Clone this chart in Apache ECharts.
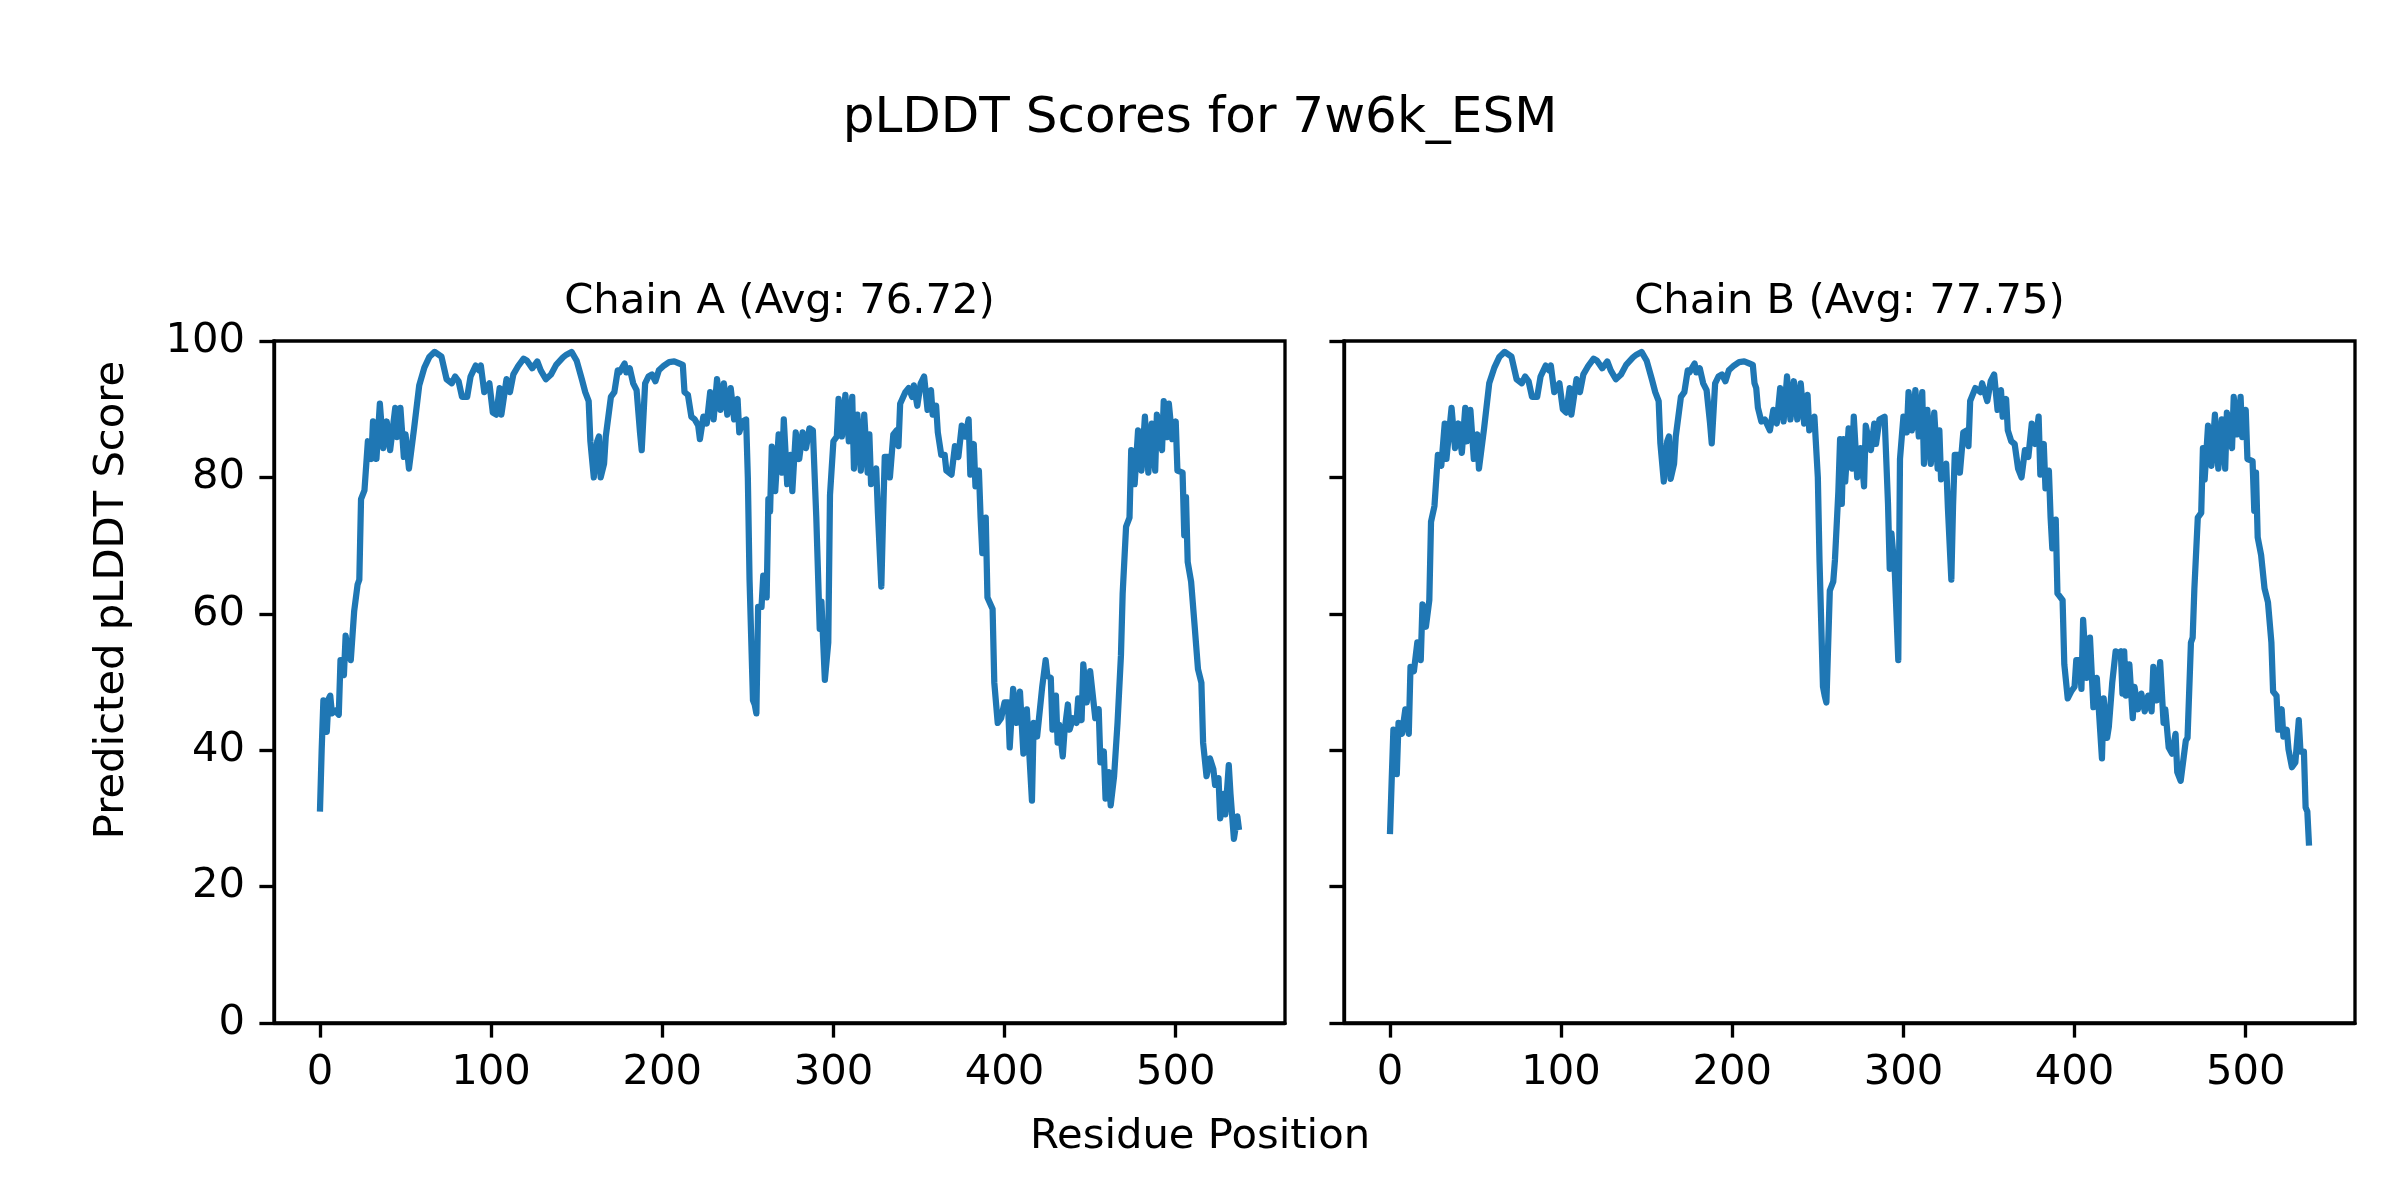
<!DOCTYPE html>
<html>
<head>
<meta charset="utf-8">
<script src="https://cdn.jsdelivr.net/npm/echarts@6/dist/echarts.min.js"></script>
<style>
html,body{margin:0;padding:0;background:#fff;}
#chart{width:2400px;height:1200px;}
</style>
</head>
<body>
<div id="chart"></div>
<script>
// ---- Data ----
const chainATitle = 'Chain A (Avg: 76.72)';
const chainBTitle = 'Chain B (Avg: 77.75)';
const xTicks = [0, 100, 200, 300, 400, 500];
const yTicks = [0, 20, 40, 60, 80, 100];

const resA = [0,1,2,3,4,5,6,7,9,11,12,14,15,16,18,20,22,23,24,26,27,28,30,31,33,35,37,39,41,44,45,47,49,50,52,55,58,61,64,67,71,74,77,79,81,83,86,88,91,93,94,96,99,101,103,105,106,109,111,113,116,119,121,124,127,129,132,135,138,142,144,147,150,153,155,157,158,160,162,163,164,166,167,170,172,174,175,178,179,181,183,185,187,188,190,192,194,196,198,201,204,207,210,212,213,215,217,219,221,222,224,226,228,230,232,234,236,238,240,242,244,245,247,249,250,251,253,254,255,256,258,259,261,262,263,264,266,268,270,271,273,275,276,278,280,282,284,286,288,290,292,293,295,297,298,300,302,303,305,307,309,311,312,314,316,318,320,321,322,325,326,328,329,330,332,333,335,337,338,339,342,344,346,347,349,351,353,355,357,358,360,361,363,365,366,369,371,373,375,377,379,380,382,383,385,386,387,389,390,393,394,396,398,400,402,403,405,407,409,411,413,416,417,419,420,422,424,425,427,428,430,431,432,434,435,437,438,440,442,443,445,446,448,450,452,453,455,456,458,459,461,462,464,466,468,469,471,473,474,476,478,480,482,484,486,488,489,492,493,495,496,498,500,501,504,505,506,507,509,511,513,515,516,518,520,522,523,525,526,528,529,531,532,534,536,537];
const plddtA = [31.0,40,47.3,45,42.7,47.5,48,45.4,45.8,45.2,53.2,51,56.8,55,53.2,60.4,64.3,65,76.8,78.1,78,85.3,82.7,88.2,82.7,90.8,84.3,88.2,84,90.2,85.9,90.2,83,86.3,81.3,87.2,93.5,96.1,97.7,98.4,97.7,94.4,93.8,94.8,94.1,91.8,91.8,94.8,96.4,95.7,96.4,92.5,93.8,89.5,89.2,93.1,89.2,94.4,92.5,95.1,96.4,97.4,97.1,96,97,95.7,94.4,95.1,96.5,97.6,98,98.4,97.1,94.4,92.5,91.2,85.3,80,85.3,86,80,82,86,91.8,92.5,95.7,95.4,96.7,95.4,96,93.8,92.8,86.6,84,93.8,94.8,95.1,94.1,95.7,96.4,96.9,97,96.7,96.5,92.5,92.1,88.9,88.5,87.6,85.6,88.9,87.9,92.5,88.5,94.4,89.9,93.8,89.2,93.1,88.5,91.5,86.6,88.2,88.5,80,65,47.3,46.7,45.4,61,61,65.6,62.4,76.8,75,84.5,78,86.3,80.7,88.5,79,83.3,78,86.6,82.7,86.6,84.3,87.2,86.9,74.1,57.8,61.8,50.3,55.8,77.4,85.3,86,91.5,86,92.1,85.3,91.8,81.3,89.2,81,89.2,80.7,86.3,79,81.3,74.8,64,74.1,83,83,80,86.3,86.9,84.6,90.8,92.5,93.1,91.8,93.5,90.5,93.8,94.8,89.9,92.8,89.2,90.5,86.6,83.3,83.3,81,80.4,84.6,83,87.6,86,88.5,80.4,84.9,78.7,81,74.1,68.9,74.1,62.4,60.7,49.9,44,44.7,47,47,40.4,49,44,48.6,39.5,46,32.6,44,42,44.4,49.3,53.2,50.9,50.6,43,48,41.1,43.7,39.1,42.7,46.7,43,44.7,44,47.6,44.4,52.6,47,51.6,47,44.7,46,38.2,39.8,32.9,36.8,31.9,36.2,44,53.9,63,72.8,74.1,84,79,86.9,81,88.9,80.7,87.9,81,89.2,84,91.2,85.9,90.8,85.6,88.2,81,80.7,71.5,77.1,67.6,64.7,58.4,51.9,49.9,41.1,36.2,38.8,37.2,34.9,35.9,30,33.6,30.6,37.8,33.6,27,30.3,28.3];

const resB = [0,1,2,4,5,7,9,11,12,14,16,18,19,21,23,24,26,28,30,32,33,36,38,40,42,44,45,47,49,51,52,55,58,61,64,67,71,74,77,79,81,83,86,88,91,93,94,96,99,101,103,105,106,109,111,113,116,119,121,124,127,129,132,135,138,142,144,147,150,153,155,157,158,160,162,163,164,166,167,170,172,174,175,178,179,181,183,185,187,188,190,192,194,196,198,201,204,207,210,212,213,214,215,217,219,222,224,226,228,230,232,234,236,238,240,242,244,245,248,250,251,253,254,255,257,259,260,262,263,264,265,266,268,270,271,273,275,277,278,281,283,284,286,289,291,292,293,295,297,298,300,302,303,305,307,309,311,312,314,316,318,320,321,322,325,326,328,329,330,332,333,335,337,338,339,342,345,346,349,351,353,355,357,358,360,361,363,365,367,369,371,373,375,377,379,380,382,383,385,386,387,389,390,393,394,396,398,400,401,403,404,405,407,409,411,413,416,417,419,420,422,424,425,427,428,429,430,432,434,435,437,439,441,443,445,446,448,450,452,453,455,457,459,460,462,463,465,466,468,469,470,472,474,475,476,478,480,482,484,486,488,489,492,493,495,497,498,500,501,504,505,506,507,509,511,513,515,516,518,519,521,522,524,525,527,529,531,532,534,535,536,537];
const plddtB = [27.7,35.5,43,36.5,44,42.4,46,42.4,52.2,51.6,55.8,53.2,61.4,58.1,62,73.5,75.8,83.3,81.7,87.9,82.7,90.2,84.3,87.9,83.6,90.2,85.3,89.9,82.7,86.3,81.3,87.2,93.8,96.1,97.7,98.4,97.7,94.4,93.8,94.8,94.1,91.8,91.8,94.8,96.4,95.7,96.4,92.5,93.8,90,89.5,93.1,89.2,94.4,92.5,95.1,96.4,97.4,97.1,96,97,95.7,94.4,95.1,96.5,97.6,98,98.4,97.1,94.4,92.5,91.2,85,79.4,85.3,86,79.8,82,86,91.8,92.5,95.7,95.4,96.7,95.4,96,93.8,92.8,88,85,93.8,94.8,95.1,94.1,95.7,96.4,96.9,97,96.7,96.5,93.8,93.1,90.2,88.2,88.5,86.9,89.9,87.9,93.1,88.2,94.8,88.5,94.1,88.5,93.8,87.9,92.1,86.9,88.9,80,67.6,49.3,48,47,63.4,64.7,67.9,78,85.6,76.1,85.6,79.4,87.2,81.3,88.9,80,84.3,78.7,87.6,84,87.9,84.9,88.5,88.9,76.1,66.6,71.8,66,53.2,82.7,88.9,86.6,92.5,86.9,92.8,86,92.5,82,89.9,82,89.5,81.3,86.9,79.7,82,75.5,65,75.8,83.3,83.3,80.7,86.6,86.9,84.6,91.2,93.1,92.5,93.8,91.2,94.1,95.1,89.9,92.8,88.9,91.5,86.9,85.3,84.9,81.3,80,84,83,87.9,84.9,88.9,80.4,84.9,78.4,81,74.1,69.6,73.8,63,62,52.6,47.6,48.6,49.3,53.2,53.2,49,59.1,50.6,56.5,46.3,50.6,38.8,47.6,41.8,43.4,49.9,54.5,54.2,54.5,48.3,54.5,48,52.6,44.7,49.3,46,48.3,45.7,48,45.7,52.2,47.3,52.9,44,46,40.4,39.5,42.4,36.8,35.5,35.5,41.4,41.8,55.8,56.5,63.7,74.1,74.8,84.3,79.7,87.6,81.7,89.2,81.3,88.5,81.3,89.5,84.3,91.8,86.3,91.8,85.9,89.9,82.7,82.4,75.1,80.7,71.2,68.6,63.7,61.7,55.8,48.6,48,43,46,42,43,40.1,37.5,38.2,44.4,39.8,39.8,31.6,31,26];

// ---- Build chart ----
const FONT = 'DejaVu Sans';
const LINE_BLUE = '#1f77b4';
const LW = 3.33;          // 0.8pt at 300dpi
const TICK_LEN = 14.6;    // 3.5pt
const FS = 41.7;          // 10pt

const pairs = (xs, ys) => xs.map((x, i) => [x, ys[i]]);

function xAxisCfg(gi) {
  return {
    type: 'value', gridIndex: gi, min: -26.85, max: 563.85,
    axisLine: { show: true, onZero: false, lineStyle: { color: '#000', width: LW } },
    axisTick: { show: true, inside: false, length: TICK_LEN, customValues: xTicks, lineStyle: { color: '#000', width: LW } },
    axisLabel: { show: true, customValues: xTicks, margin: 29, color: '#000', fontSize: FS, fontFamily: FONT },
    splitLine: { show: false }
  };
}
function yAxisCfg(gi, showLabels) {
  return {
    type: 'value', gridIndex: gi, min: 0, max: 100, interval: 20,
    axisLine: { show: true, onZero: false, lineStyle: { color: '#000', width: LW } },
    axisTick: { show: true, inside: false, length: TICK_LEN, customValues: yTicks, lineStyle: { color: '#000', width: LW } },
    axisLabel: { show: showLabels, customValues: yTicks, margin: 29, color: '#000', fontSize: FS, fontFamily: FONT },
    splitLine: { show: false }
  };
}

const chart = echarts.init(document.getElementById('chart'), null, { renderer: 'canvas', width: 2400, height: 1200 });
const option = {
  backgroundColor: '#ffffff',
  animation: false,
  grid: [
    { left: 274, top: 341, width: 1011, height: 682, show: true, borderColor: '#000', borderWidth: LW, containLabel: false },
    { left: 1344, top: 341, width: 1011, height: 682, show: true, borderColor: '#000', borderWidth: LW, containLabel: false }
  ],
  xAxis: [xAxisCfg(0), xAxisCfg(1)],
  yAxis: [yAxisCfg(0, true), yAxisCfg(1, false)],
  series: [
    { type: 'line', xAxisIndex: 0, yAxisIndex: 0, data: pairs(resA, plddtA), showSymbol: false, symbol: 'none',
      lineStyle: { color: LINE_BLUE, width: 6.25, join: 'round', cap: 'butt' } },
    { type: 'line', xAxisIndex: 1, yAxisIndex: 1, data: pairs(resB, plddtB), showSymbol: false, symbol: 'none',
      lineStyle: { color: LINE_BLUE, width: 6.25, join: 'round', cap: 'butt' } }
  ],
  graphic: [
    { type: 'text', x: 1200, y: 119, style: { text: 'pLDDT Scores for 7w6k_ESM', fontSize: 50, fontFamily: FONT, fill: '#000', align: 'center', verticalAlign: 'middle' } },
    { type: 'text', x: 779.5, y: 302, style: { text: chainATitle, fontSize: FS, fontFamily: FONT, fill: '#000', align: 'center', verticalAlign: 'middle' } },
    { type: 'text', x: 1849.5, y: 302, style: { text: chainBTitle, fontSize: FS, fontFamily: FONT, fill: '#000', align: 'center', verticalAlign: 'middle' } },
    { type: 'text', x: 1200, y: 1137, style: { text: 'Residue Position', fontSize: FS, fontFamily: FONT, fill: '#000', align: 'center', verticalAlign: 'middle' } },
    { type: 'text', x: 112, y: 600, rotation: Math.PI / 2, style: { text: 'Predicted pLDDT Score', fontSize: FS, fontFamily: FONT, fill: '#000', align: 'center', verticalAlign: 'middle' } }
  ]
};
chart.setOption(option);
</script>
</body>
</html>
